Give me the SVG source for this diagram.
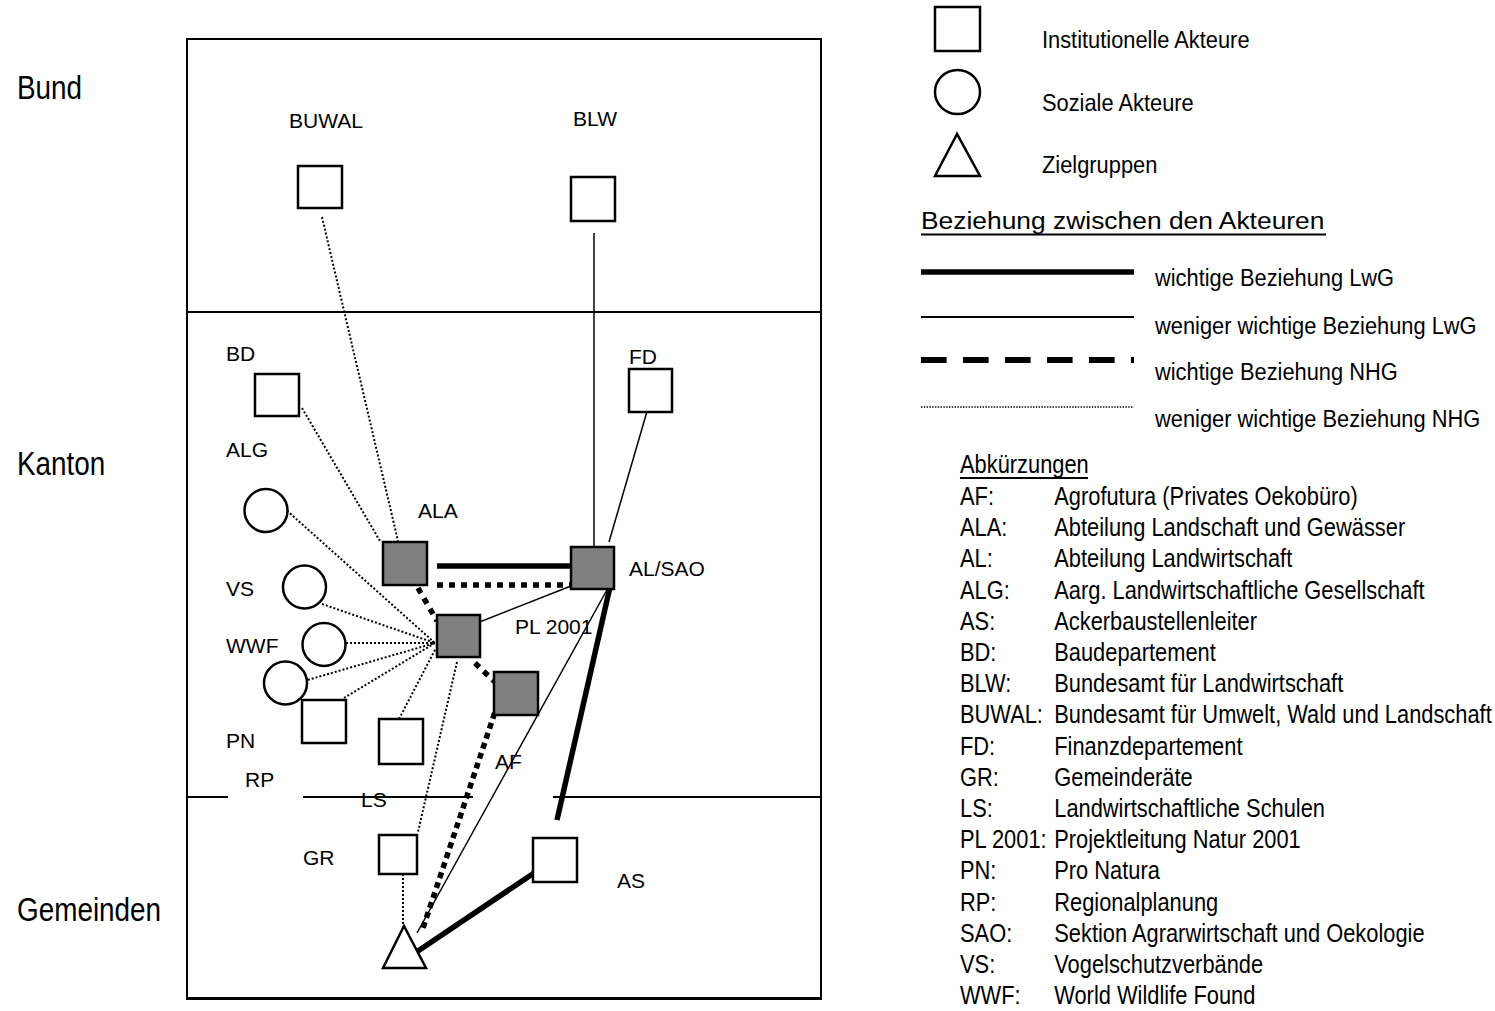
<svg xmlns="http://www.w3.org/2000/svg" width="1495" height="1011" viewBox="0 0 1495 1011">
<style>
text{font-family:"Liberation Sans",Arial,sans-serif;fill:#000}
.lvl{font-size:34px}
.lbl{font-size:21px}
.leg{font-size:24px}
.abb{font-size:25.5px}
.box{fill:#fff;stroke:#000;stroke-width:2.5}
.gbox{fill:#808080;stroke:#000;stroke-width:2.5}
.circ{fill:#fff;stroke:#000;stroke-width:2.5}
.frame{fill:none;stroke:#000;stroke-width:2}
.thick{stroke:#000;stroke-width:5.5;fill:none}
.thin{stroke:#000;stroke-width:1.5;fill:none}
.dash{stroke:#000;stroke-width:5.5;stroke-dasharray:6 6;fill:none}
.dash2{stroke:#000;stroke-width:5.5;stroke-dasharray:6 4.5;fill:none}
.dot{stroke:#000;stroke-width:2;stroke-dasharray:2 2;fill:none}
</style>

<!-- level frame -->
<g id="frame">
<rect class="frame" x="187" y="39" width="634" height="960"/>
<line x1="187" y1="998.5" x2="821" y2="998.5" stroke="#000" stroke-width="3"/>
<line x1="187" y1="312" x2="821" y2="312" stroke="#000" stroke-width="2"/>
<line x1="187" y1="797" x2="228" y2="797" stroke="#000" stroke-width="1.8"/>
<line x1="303" y1="797" x2="473" y2="797" stroke="#000" stroke-width="1.8"/>
<line x1="553" y1="797" x2="821" y2="797" stroke="#000" stroke-width="1.8"/>
</g>

<g id="levels">
<text class="lvl" transform="translate(17,99) scale(0.82,1)">Bund</text>
<text class="lvl" transform="translate(17,475) scale(0.82,1)">Kanton</text>
<text class="lvl" transform="translate(17,921) scale(0.82,1)">Gemeinden</text>
</g>

<g id="connectors">
<line class="dot" x1="322" y1="217" x2="398" y2="541"/>
<line class="thin" x1="594" y1="233" x2="594" y2="547"/>
<line class="thin" x1="648" y1="408" x2="609" y2="542"/>
<line class="dot" x1="302" y1="408" x2="380" y2="541"/>
<line class="dot" x1="284" y1="508" x2="435" y2="643"/>
<line class="dot" x1="322" y1="604" x2="435" y2="643"/>
<line class="dot" x1="342" y1="643" x2="435" y2="643"/>
<line class="dot" x1="304" y1="681" x2="435" y2="643"/>
<line class="dot" x1="344" y1="698" x2="435" y2="643"/>
<line class="dot" x1="399" y1="719" x2="436" y2="648"/>
<line class="thick" x1="437" y1="566" x2="571" y2="566"/>
<line class="dash" x1="437" y1="585" x2="571" y2="585"/>
<line class="dash" x1="418" y1="588" x2="437" y2="621"/>
<line class="thin" x1="477" y1="623" x2="571" y2="586"/>
<line class="dash" x1="475" y1="663" x2="496" y2="683"/>
<line class="dash2" x1="498" y1="703" x2="422" y2="931"/>
<line class="thin" x1="608" y1="588" x2="417" y2="933"/>
<line class="thick" x1="610" y1="587" x2="557" y2="820"/>
<line class="dot" x1="457" y1="662" x2="418" y2="832"/>
<line class="dot" x1="403" y1="870" x2="403" y2="963"/>
<line class="thick" x1="537" y1="871" x2="418" y2="951"/>
</g>

<g id="BUWAL"><rect class="box" x="298" y="166" width="44" height="42"/><text class="lbl" x="326" y="128" text-anchor="middle">BUWAL</text></g>
<g id="BLW"><rect class="box" x="571" y="177" width="44" height="44"/><text class="lbl" x="595" y="126" text-anchor="middle">BLW</text></g>
<g id="BD"><rect class="box" x="255" y="374" width="44" height="42"/><text class="lbl" x="226" y="361">BD</text></g>
<g id="FD"><rect class="box" x="629" y="369" width="43" height="43"/><text class="lbl" x="629" y="364">FD</text></g>
<g id="ALG"><circle class="circ" cx="266" cy="510.5" r="21.5"/><text class="lbl" x="226" y="457">ALG</text></g>
<g id="ALA"><rect class="gbox" x="383" y="542" width="44" height="43"/><text class="lbl" x="418" y="518">ALA</text></g>
<g id="AL_SAO"><rect class="gbox" x="571" y="547" width="43" height="42"/><text class="lbl" x="629" y="576">AL/SAO</text></g>
<g id="VS"><circle class="circ" cx="304.5" cy="587" r="21.5"/><text class="lbl" x="226" y="596">VS</text></g>
<g id="PL2001"><rect class="gbox" x="437" y="615" width="43" height="42"/><text class="lbl" x="515" y="634">PL 2001</text></g>
<g id="WWF"><circle class="circ" cx="324" cy="644.5" r="21.5"/><text class="lbl" x="226" y="653">WWF</text></g>
<g id="PN"><circle class="circ" cx="285.5" cy="683" r="21.5"/><text class="lbl" x="226" y="748">PN</text></g>
<g id="RP"><rect class="box" x="302" y="700" width="44" height="43"/><text class="lbl" x="245" y="787">RP</text></g>
<g id="LS"><rect class="box" x="379" y="719" width="44" height="45"/><text class="lbl" x="361" y="807">LS</text></g>
<g id="AF"><rect class="gbox" x="494" y="672" width="44" height="43"/><text class="lbl" x="495" y="769">AF</text></g>
<g id="GR"><rect class="box" x="379" y="835" width="38" height="39"/><text class="lbl" x="303" y="865">GR</text></g>
<g id="AS"><rect class="box" x="533" y="838" width="44" height="44"/><text class="lbl" x="617" y="888">AS</text></g>
<g id="Zielgruppen"><polygon class="box" points="404,926 383,968 426,968"/></g>

<g id="legend">
<rect class="box" x="935" y="7" width="45" height="44" stroke-width="2"/>
<ellipse class="circ" cx="957.5" cy="92" rx="22.5" ry="22" stroke-width="2"/>
<polygon class="box" points="957,134 935,176 980,176" stroke-width="2"/>
<text class="leg" transform="translate(1042,48) scale(0.91,1)">Institutionelle Akteure</text>
<text class="leg" transform="translate(1042,111) scale(0.91,1)">Soziale Akteure</text>
<text class="leg" transform="translate(1042,173) scale(0.91,1)">Zielgruppen</text>
<text class="leg" transform="translate(921,229) scale(1.1,1)">Beziehung zwischen den Akteuren</text>
<line x1="921" y1="234.5" x2="1326" y2="234.5" stroke="#000" stroke-width="2"/>
<line x1="921" y1="272" x2="1134" y2="272" stroke="#000" stroke-width="5.5"/>
<line x1="921" y1="317" x2="1134" y2="317" stroke="#000" stroke-width="2"/>
<line x1="921" y1="360" x2="1134" y2="360" stroke="#000" stroke-width="6" stroke-dasharray="25.6 16.4"/>
<line x1="921" y1="407" x2="1134" y2="407" stroke="#000" stroke-width="1.4" stroke-dasharray="1.4 1.4"/>
<text class="leg" transform="translate(1155,286) scale(0.91,1)">wichtige Beziehung LwG</text>
<text class="leg" transform="translate(1155,334) scale(0.91,1)">weniger wichtige Beziehung LwG</text>
<text class="leg" transform="translate(1155,380) scale(0.91,1)">wichtige Beziehung NHG</text>
<text class="leg" transform="translate(1155,427) scale(0.91,1)">weniger wichtige Beziehung NHG</text>
</g>

<g id="abbreviations">
<line x1="960" y1="478" x2="1088" y2="478" stroke="#000" stroke-width="1.8"/>
<g transform="translate(960,0) scale(0.857,1)">
<text class="abb" x="0" y="473">Abkürzungen</text>
<text class="abb" x="0" y="505">AF:</text><text class="abb" x="110" y="505">Agrofutura (Privates Oekobüro)</text>
<text class="abb" x="0" y="536.2">ALA:</text><text class="abb" x="110" y="536.2">Abteilung Landschaft und Gewässer</text>
<text class="abb" x="0" y="567.4">AL:</text><text class="abb" x="110" y="567.4">Abteilung Landwirtschaft</text>
<text class="abb" x="0" y="598.6">ALG:</text><text class="abb" x="110" y="598.6">Aarg. Landwirtschaftliche Gesellschaft</text>
<text class="abb" x="0" y="629.8">AS:</text><text class="abb" x="110" y="629.8">Ackerbaustellenleiter</text>
<text class="abb" x="0" y="661">BD:</text><text class="abb" x="110" y="661">Baudepartement</text>
<text class="abb" x="0" y="692.2">BLW:</text><text class="abb" x="110" y="692.2">Bundesamt für Landwirtschaft</text>
<text class="abb" x="0" y="723.4">BUWAL:</text><text class="abb" x="110" y="723.4">Bundesamt für Umwelt, Wald und Landschaft</text>
<text class="abb" x="0" y="754.6">FD:</text><text class="abb" x="110" y="754.6">Finanzdepartement</text>
<text class="abb" x="0" y="785.8">GR:</text><text class="abb" x="110" y="785.8">Gemeinderäte</text>
<text class="abb" x="0" y="817">LS:</text><text class="abb" x="110" y="817">Landwirtschaftliche Schulen</text>
<text class="abb" x="0" y="848.2">PL 2001:</text><text class="abb" x="110" y="848.2">Projektleitung Natur 2001</text>
<text class="abb" x="0" y="879.4">PN:</text><text class="abb" x="110" y="879.4">Pro Natura</text>
<text class="abb" x="0" y="910.6">RP:</text><text class="abb" x="110" y="910.6">Regionalplanung</text>
<text class="abb" x="0" y="941.8">SAO:</text><text class="abb" x="110" y="941.8">Sektion Agrarwirtschaft und Oekologie</text>
<text class="abb" x="0" y="973">VS:</text><text class="abb" x="110" y="973">Vogelschutzverbände</text>
<text class="abb" x="0" y="1004.2">WWF:</text><text class="abb" x="110" y="1004.2">World Wildlife Found</text>
</g>
</g>
</svg>
